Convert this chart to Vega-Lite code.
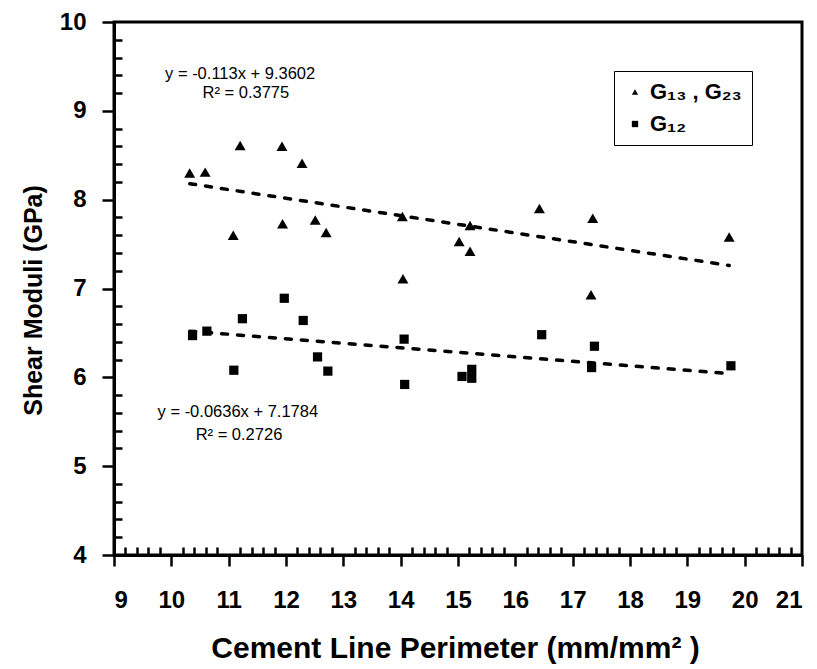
{
  "$schema": "https://vega.github.io/schema/vega-lite/v6.json",
  "autosize": {"type": "none"},
  "width": 688,
  "height": 533,
  "padding": {"left": 114, "top": 22, "right": 15, "bottom": 114},
  "background": "white",
  "config": {
    "view": {"stroke": "black", "strokeWidth": 3},
    "font": "Liberation Sans",
    "axis": {
      "domainColor": "black",
      "domainWidth": 3,
      "tickColor": "black",
      "tickWidth": 2.5,
      "grid": false,
      "labelFont": "Liberation Sans",
      "labelFontWeight": "bold",
      "labelFontSize": 24,
      "labelColor": "black",
      "titleFont": "Liberation Sans",
      "titleFontWeight": "bold",
      "titleColor": "black",
      "labelOverlap": false
    }
  },
  "datasets": {
    "pts": [
      {"series": "G13", "x": 10.32, "y": 8.30},
      {"series": "G13", "x": 10.59, "y": 8.31},
      {"series": "G13", "x": 11.20, "y": 8.61},
      {"series": "G13", "x": 11.93, "y": 8.60},
      {"series": "G13", "x": 12.28, "y": 8.41},
      {"series": "G13", "x": 11.08, "y": 7.60},
      {"series": "G13", "x": 11.94, "y": 7.73},
      {"series": "G13", "x": 12.51, "y": 7.77},
      {"series": "G13", "x": 12.70, "y": 7.63},
      {"series": "G13", "x": 14.03, "y": 7.81},
      {"series": "G13", "x": 14.04, "y": 7.11},
      {"series": "G13", "x": 15.02, "y": 7.53},
      {"series": "G13", "x": 15.21, "y": 7.71},
      {"series": "G13", "x": 15.21, "y": 7.42},
      {"series": "G13", "x": 16.42, "y": 7.90},
      {"series": "G13", "x": 17.35, "y": 7.79},
      {"series": "G13", "x": 17.32, "y": 6.93},
      {"series": "G13", "x": 19.73, "y": 7.58},
      {"series": "G12", "x": 10.37, "y": 6.47},
      {"series": "G12", "x": 10.62, "y": 6.52},
      {"series": "G12", "x": 11.24, "y": 6.66},
      {"series": "G12", "x": 11.97, "y": 6.89},
      {"series": "G12", "x": 12.30, "y": 6.64},
      {"series": "G12", "x": 11.09, "y": 6.08},
      {"series": "G12", "x": 12.55, "y": 6.23},
      {"series": "G12", "x": 12.73, "y": 6.07},
      {"series": "G12", "x": 14.06, "y": 6.43},
      {"series": "G12", "x": 14.07, "y": 5.92},
      {"series": "G12", "x": 15.07, "y": 6.01},
      {"series": "G12", "x": 15.24, "y": 6.09},
      {"series": "G12", "x": 15.24, "y": 5.99},
      {"series": "G12", "x": 16.46, "y": 6.48},
      {"series": "G12", "x": 17.38, "y": 6.35},
      {"series": "G12", "x": 17.33, "y": 6.11},
      {"series": "G12", "x": 19.76, "y": 6.13}
    ],
    "trend": [
      {"series": "T13", "x": 10.32, "y": 8.18},
      {"series": "T13", "x": 19.73, "y": 7.26},
      {"series": "T12", "x": 10.32, "y": 6.52},
      {"series": "T12", "x": 19.76, "y": 6.04}
    ],
    "notes": [
      {"x": 11.2, "y": 9.41, "label": "y = -0.113x + 9.3602"},
      {"x": 11.3, "y": 9.20, "label": "R² = 0.3775"},
      {"x": 11.16, "y": 5.61, "label": "y = -0.0636x + 7.1784"},
      {"x": 11.18, "y": 5.35, "label": "R² = 0.2726"}
    ]
  },
  "layer": [
    {
      "data": {"name": "trend"},
      "mark": {"type": "line", "color": "black", "strokeWidth": 3.5, "strokeDash": [6, 10], "strokeCap": "round"},
      "encoding": {
        "x": {"field": "x", "type": "quantitative", "scale": {"domain": [9, 21], "nice": false, "zero": false},
          "title": "Cement Line Perimeter (mm/mm² )",
          "axis": {
            "tickCount": 200,
            "values": [9,9.2,9.4,9.6,9.8,10,10.2,10.4,10.6,10.8,11,11.2,11.4,11.6,11.8,12,12.2,12.4,12.6,12.8,13,13.2,13.4,13.6,13.8,14,14.2,14.4,14.6,14.8,15,15.2,15.4,15.6,15.8,16,16.2,16.4,16.6,16.8,17,17.2,17.4,17.6,17.8,18,18.2,18.4,18.6,18.8,19,19.2,19.4,19.6,19.8,20,20.2,20.4,20.6,20.8,21],
            "labelExpr": "abs(datum.value - round(datum.value)) < 0.01 ? format(datum.value, 'd') : ''",
            "tickSize": {"condition": {"test": "abs(datum.value - round(datum.value)) < 0.01", "value": 11}, "value": -8},
            "labelPadding": 22,
            "titleFontSize": 30,
            "titleX": 341,
            "titleY": 93,
            "titleBaseline": "middle",
            "titleAnchor": "middle"
          }
        },
        "y": {"field": "y", "type": "quantitative", "scale": {"domain": [4, 10], "nice": false, "zero": false},
          "title": "Shear Moduli (GPa)",
          "axis": {
            "tickCount": 200,
            "values": [4,4.2,4.4,4.6,4.8,5,5.2,5.4,5.6,5.8,6,6.2,6.4,6.6,6.8,7,7.2,7.4,7.6,7.8,8,8.2,8.4,8.6,8.8,9,9.2,9.4,9.6,9.8,10],
            "labelExpr": "abs(datum.value - round(datum.value)) < 0.01 ? format(datum.value, 'd') : ''",
            "tickSize": {"condition": {"test": "abs(datum.value - round(datum.value)) < 0.01", "value": 12}, "value": -8},
            "labelPadding": 16,
            "titleFontSize": 25,
            "titleX": -81,
            "titleY": 278,
            "titleBaseline": "middle",
            "titleAnchor": "middle"
          }
        },
        "detail": {"field": "series"}
      }
    },
    {
      "data": {"name": "pts"},
      "transform": [{"filter": "datum.series == 'G13'"}],
      "mark": {"type": "point", "filled": true, "color": "black", "opacity": 1, "size": 120},
      "encoding": {
        "x": {"field": "x", "type": "quantitative"},
        "y": {"field": "y", "type": "quantitative"},
        "shape": {
          "field": "series", "type": "nominal",
          "scale": {"domain": ["G13", "G12"], "range": ["triangle-up", "square"]},
          "legend": {
            "title": null,
            "orient": "none",
            "legendX": 500,
            "legendY": 49,
            "strokeColor": "black",
            "padding": 10,
            "symbolSize": 40,
            "symbolFillColor": "black",
            "symbolStrokeColor": "black",
            "labelFont": "Liberation Sans",
            "labelFontWeight": "bold",
            "labelFontSize": 22,
            "labelColor": "black",
            "labelOffset": 4,
            "rowPadding": 10,
            "labelExpr": "datum.label == 'G13' ? 'G₁₃ , G₂₃  ' : 'G₁₂'"
          }
        }
      }
    },
    {
      "data": {"name": "pts"},
      "transform": [{"filter": "datum.series == 'G12'"}],
      "mark": {"type": "point", "filled": true, "color": "black", "opacity": 1, "size": 85},
      "encoding": {
        "x": {"field": "x", "type": "quantitative"},
        "y": {"field": "y", "type": "quantitative"},
        "shape": {"field": "series", "type": "nominal"}
      }
    },
    {
      "data": {"name": "notes"},
      "mark": {"type": "text", "font": "Liberation Sans", "fontSize": 16.5, "color": "black", "align": "center", "baseline": "middle"},
      "encoding": {
        "x": {"field": "x", "type": "quantitative"},
        "y": {"field": "y", "type": "quantitative"},
        "text": {"field": "label"}
      }
    }
  ]
}
